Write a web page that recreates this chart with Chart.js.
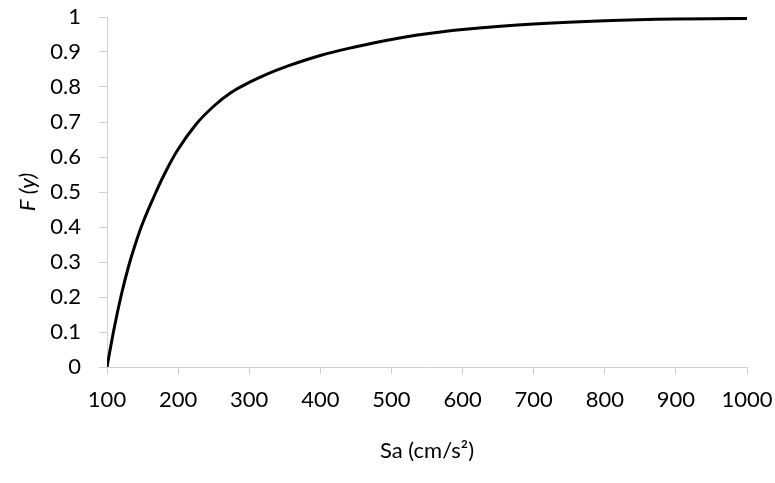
<!DOCTYPE html>
<html>
<head>
<meta charset="utf-8">
<script src="https://cdn.jsdelivr.net/npm/chart.js@4.4.1/dist/chart.umd.min.js"></script>
<style>
  html, body { margin: 0; padding: 0; background: #fff; }
  #wrap { width: 775px; height: 483px; }
</style>
</head>
<body>
<div id="wrap"><canvas id="cdf"></canvas></div>
<script>
// curve: Sa (cm/s2) vs F(y)
var sa = [100, 110, 120, 130, 140, 150, 165, 180, 200, 225, 250, 275, 300, 325, 350, 400, 450, 500, 550, 600, 700, 800, 900, 1000];
var fy = [0, 0.11, 0.205, 0.285, 0.352, 0.41, 0.482, 0.548, 0.622, 0.693, 0.745, 0.785, 0.813, 0.837, 0.857, 0.89, 0.915, 0.936, 0.952, 0.964, 0.98, 0.989, 0.994, 0.996];

var xTickLabels = ["100", "200", "300", "400", "500", "600", "700", "800", "900", "1000"];
var yTickLabels = ["0", "0.1", "0.2", "0.3", "0.4", "0.5", "0.6", "0.7", "0.8", "0.9", "1"];

var points = [];
for (var i = 0; i < sa.length; i++) {
  points.push({ x: sa[i], y: fy[i] });
}

var fontFam = "Lato, 'Open Sans', sans-serif";
var axisGray = "#cfcfcf";

// stop label overflow from pushing the plot area in
function noEdgePad(s) {
  s.paddingTop = 0;
  s.paddingBottom = 0;
  s.paddingLeft = 0;
  s.paddingRight = 0;
}

var ctx = document.getElementById("cdf");
var chart = new Chart(ctx, {
  type: "line",
  data: {
    datasets: [{
      label: "F (y)",
      data: points,
      borderColor: "#000",
      borderWidth: 3,
      pointRadius: 0,
      fill: false,
      tension: 0.4
    }]
  },
  options: {
    responsive: true,
    maintainAspectRatio: false,
    animation: false,
    layout: { padding: { left: 0, right: 28, top: 17, bottom: 0 } },
    plugins: {
      legend: { display: false },
      tooltip: { enabled: false }
    },
    scales: {
      x: {
        type: "linear",
        min: 100,
        max: 1000,
        grid: { drawOnChartArea: false, drawTicks: true, tickLength: 7, color: axisGray },
        border: { color: axisGray, width: 1 },
        ticks: {
          stepSize: 100,
          padding: 13,
          color: "#000",
          font: { family: fontFam, size: 22 },
          maxRotation: 0,
          callback: function (v, idx) { return xTickLabels[idx]; }
        },
        title: {
          display: true,
          text: "Sa (cm/s²)",
          color: "#000",
          font: { family: fontFam, size: 22 },
          padding: { top: 0, bottom: 19 }
        },
        afterFit: function (s) { s.height = 116; noEdgePad(s); }
      },
      y: {
        min: 0,
        max: 1,
        grid: { drawOnChartArea: false, drawTicks: true, tickLength: 8, color: axisGray },
        border: { color: axisGray, width: 1 },
        ticks: {
          stepSize: 0.1,
          padding: 18,
          color: "#000",
          font: { family: fontFam, size: 22 },
          callback: function (v, idx) { return yTickLabels[idx]; }
        },
        title: {
          display: true,
          text: "F (y)",
          color: "#000",
          font: { family: fontFam, size: 22, style: "italic" },
          padding: { top: 15, bottom: 0 }
        },
        afterFit: function (s) { s.width = 107; noEdgePad(s); }
      }
    }
  }
});
</script>
</body>
</html>
